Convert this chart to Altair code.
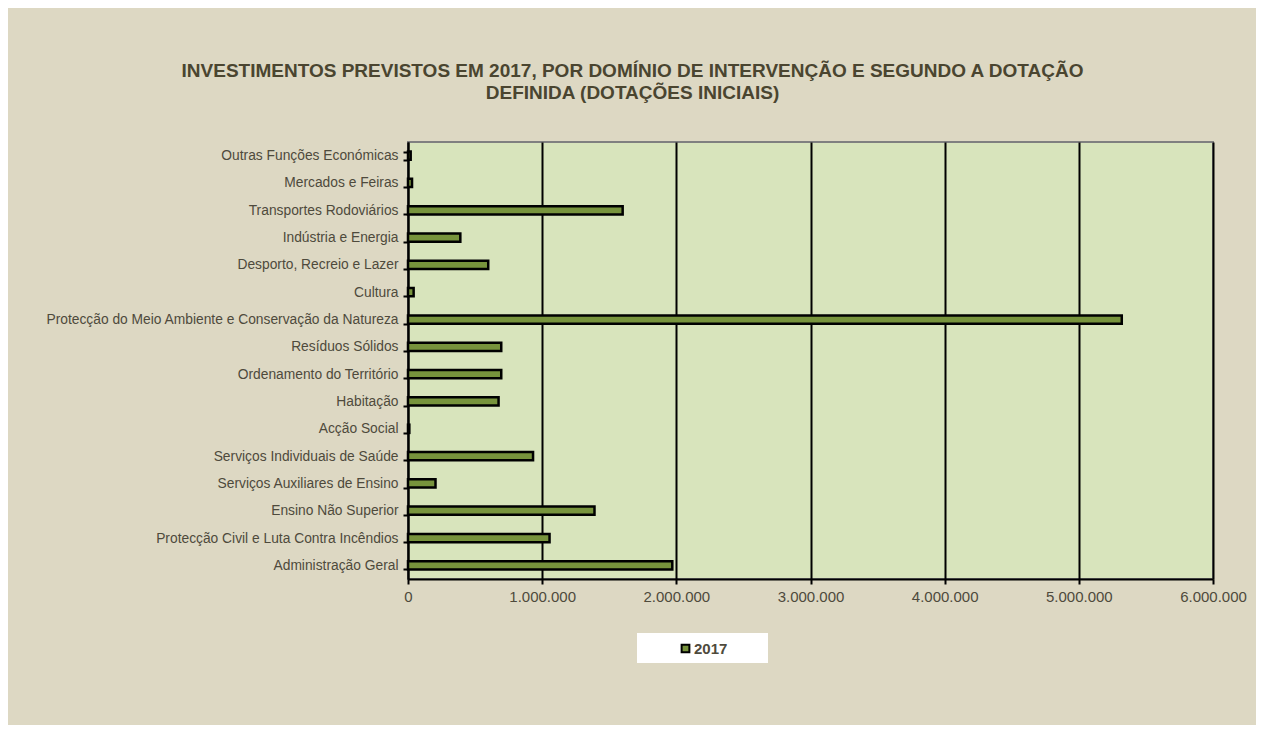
import altair as alt
import pandas as pd

categories = [
    "Outras Funções Económicas",
    "Mercados e Feiras",
    "Transportes Rodoviários",
    "Indústria e Energia",
    "Desporto, Recreio e Lazer",
    "Cultura",
    "Protecção do Meio Ambiente e Conservação da Natureza",
    "Resíduos Sólidos",
    "Ordenamento do Território",
    "Habitação",
    "Acção Social",
    "Serviços Individuais de Saúde",
    "Serviços Auxiliares de Ensino",
    "Ensino Não Superior",
    "Protecção Civil e Luta Contra Incêndios",
    "Administração Geral",
]
values_2017 = [20000, 30000, 1600000, 390000, 598000, 42000, 5320000, 695000,
               695000, 675000, 10000, 932000, 205000, 1390000, 1055000, 1970000]
series = ["2017"] * len(categories)
x_ticks = [0, 1000000, 2000000, 3000000, 4000000, 5000000, 6000000]

title_lines = [
    "INVESTIMENTOS PREVISTOS EM 2017, POR DOMÍNIO DE INTERVENÇÃO  E SEGUNDO A DOTAÇÃO",
    "DEFINIDA (DOTAÇÕES INICIAIS)",
]

df = pd.DataFrame({"categoria": categories, "valor": values_2017, "serie": series})

TEXT = "#4E4A3C"
FONT = "Liberation Sans"

box = alt.Chart(pd.DataFrame({"k": [0]})).mark_rect(color="white").encode(
    x=alt.value(229), x2=alt.value(360), y=alt.value(491), y2=alt.value(521)
)

bars = alt.Chart(df).mark_bar(stroke="black", strokeWidth=2.5).encode(
    x=alt.X(
        "valor:Q",
        scale=alt.Scale(domain=[0, 6000000], nice=False),
        axis=alt.Axis(
            values=x_ticks,
            title=None,
            grid=True,
            gridColor="black",
            gridWidth=2,
            gridOpacity=1,
            domainColor="black",
            domainWidth=2,
            tickColor="black",
            tickWidth=2,
            tickSize=5,
            labelPadding=5,
            labelFontSize=15,
            labelFont=FONT,
            labelColor=TEXT,
            labelFlush=False,
            labelOverlap=False,
            labelExpr="replace(format(datum.value, ',.0f'), /,/g, '.')",
        ),
    ),
    y=alt.Y(
        "categoria:N",
        sort=categories,
        scale=alt.Scale(paddingInner=0.7, paddingOuter=0.35),
        axis=alt.Axis(
            title=None,
            grid=False,
            tickBand="extent",
            domainColor="black",
            domainWidth=2,
            tickColor="black",
            tickWidth=2,
            tickSize=5,
            labelPadding=5,
            labelFontSize=13.8,
            labelFont=FONT,
            labelColor=TEXT,
            labelLimit=500,
        ),
    ),
    color=alt.Color(
        "serie:N",
        scale=alt.Scale(domain=["2017"], range=["#77933C"]),
        legend=alt.Legend(
            title=None,
            orient="none",
            legendX=270,
            legendY=499,
            padding=0,
            symbolType="square",
            symbolSize=60,
            symbolStrokeColor="black",
            symbolStrokeWidth=2,
            symbolFillColor="#77933C",
            labelFontSize=15,
            labelFontWeight="bold",
            labelFont=FONT,
            labelColor=TEXT,
            labelOffset=1,
        ),
    ),
)

chart = alt.layer(box, bars).properties(
    width=805,
    height=437,
    autosize=alt.AutoSizeParams(type="none"),
    padding={"left": 400, "top": 134, "right": 43, "bottom": 146},
    background="#DDD8C3",
    title=alt.TitleParams(
        text=title_lines,
        font=FONT,
        fontSize=19,
        fontWeight="bold",
        color="#4A4530",
        anchor="middle",
        frame="group",
        dx=-178,
        offset=32,
        lineHeight=22,
    ),
).configure_view(
    fill="#D8E4BC", stroke="#808080", strokeWidth=2
)

chart.save("out.html", embed_options={"renderer": "svg", "actions": False})
